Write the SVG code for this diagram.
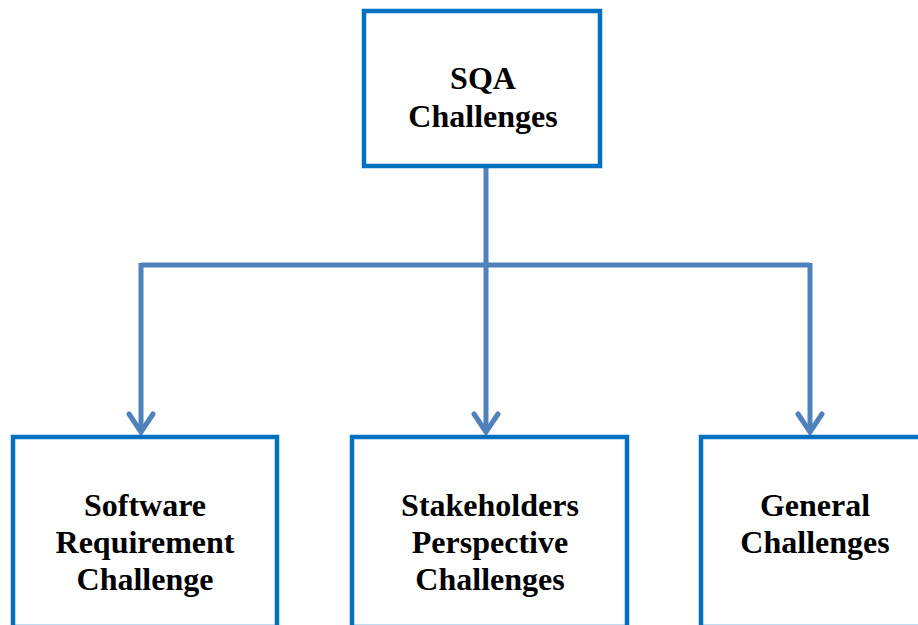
<svg xmlns="http://www.w3.org/2000/svg" width="918" height="625" viewBox="0 0 918 625">
<style>
.box{fill:#fff;stroke:#0070C0;stroke-width:4.5}
.t{font-family:"Liberation Serif","Times New Roman",serif;font-weight:bold;font-size:32px;fill:#000;text-anchor:middle}
.c{fill:none;stroke:#4F81BD;stroke-width:5}
</style>
<rect width="918" height="625" fill="#fff"/>
<g id="connectors">
<path class="c" d="M486 168 V265 M141 265 H810 M141 263 V432 M486 265 V432 M810 263 V432"/>
<path class="c" stroke-linecap="round" stroke-linejoin="miter" d="M129 414 L141 432 L153 414 M474 414 L486 432 L498 414 M798 414 L810 432 L822 414"/>
</g>
<g id="sqa">
<rect class="box" x="364" y="11" width="236" height="155"/>
<text class="t" x="483" y="89">SQA</text>
<text class="t" x="483" y="127">Challenges</text>
</g>
<g id="software">
<rect class="box" x="13" y="437" width="264" height="190"/>
<text class="t" x="145" y="516">Software</text>
<text class="t" x="145" y="553">Requirement</text>
<text class="t" x="145" y="590">Challenge</text>
</g>
<g id="stakeholders">
<rect class="box" x="352" y="437" width="275" height="190"/>
<text class="t" x="490" y="516">Stakeholders</text>
<text class="t" x="490" y="553">Perspective</text>
<text class="t" x="490" y="590">Challenges</text>
</g>
<g id="general">
<rect class="box" x="701" y="437" width="230" height="190"/>
<text class="t" x="815" y="516">General</text>
<text class="t" x="815" y="553">Challenges</text>
</g>
</svg>
